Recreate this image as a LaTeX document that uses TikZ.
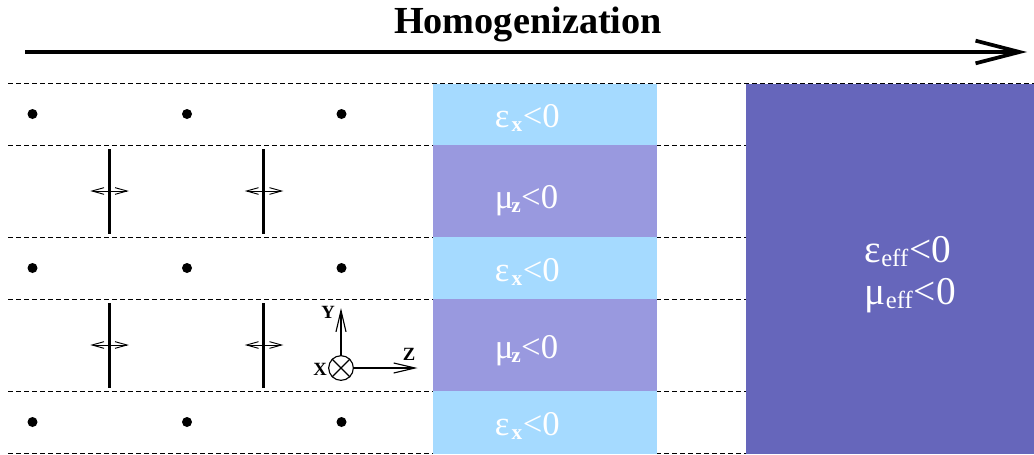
\documentclass[tikz,border=0pt]{standalone}
\usepackage{fontspec}
\setmainfont{Liberation Serif}
\usetikzlibrary{arrows.meta}
\definecolor{lightb}{HTML}{A5DAFF}
\definecolor{midb}{HTML}{9999DF}
\definecolor{darkb}{HTML}{6666BB}
\newcommand{\fsz}[1]{\fontsize{#1}{#1}\selectfont}
\newcommand{\lay}[3]{{\fsz{26}#1\kern#3\raisebox{-3pt}{\fsz{16}\textbf{#2}}\kern0.3pt<0}}
\newcommand{\layeff}[1]{{\fsz{29.5}#1\raisebox{-3.5pt}{\fsz{18.5}eff}\kern0.9pt<0}}
\tikzset{
  sep/.style={draw=black,line width=0.75pt,dash pattern=on 3.4pt off 2.6pt},
  band/.style={draw=none,fill=#1},
  pt/.style={circle,fill=black,draw=none,inner sep=0pt,minimum size=7.5pt},
  wire/.style={draw=black,line width=2.1pt},
  dipole/.style={draw=black,line width=0.7pt,{Straight Barb[length=9pt,width=5pt,line width=0.7pt]}-{Straight Barb[length=9pt,width=5pt,line width=0.7pt]}},
  axis/.style={draw=black,line width=0.85pt,-{Straight Barb[length=16pt,width=7.5pt,line width=0.85pt]}},
  lab/.style={inner sep=0pt,anchor=base west,text=white},
  axl/.style={inner sep=0pt,anchor=center,font=\fsz{14}\bfseries}
}
\begin{document}
\begin{tikzpicture}[x=0.75pt,y=-0.75pt]
\useasboundingbox (0,0) rectangle (1034,454);
\fill[white] (0,0) rectangle (1034,454);
% separators
\foreach \n/\y in {a/83.5,b/145,c/237,d/299,e/391,f/453.5}{
  \coordinate (s\n) at (8,\y);
  \coordinate (t\n) at (1034,\y);
  \draw[sep] (s\n) -- (t\n);
}
% bands
\foreach \a/\b/\c in {83.5/145/lightb,145/237/midb,237/299/lightb,299/391/midb,391/453.5/lightb}
  \fill[band=\c] (433,\a) rectangle (657,\b);
\fill[band=darkb] (746,83.5) rectangle (1034,454);
% dots
\foreach \r/\y in {1/114,2/268,3/422}
  \foreach \c/\x in {1/32.5,2/187,3/341.5}
    \node[pt] (p\r\c) at (\x,\y) {};
% wires and dipoles
\foreach \r/\t/\m/\e in {1/149/191/233.5,2/303/345/387.5}
  \foreach \c/\x in {1/109.3,2/263.8}{
    \coordinate (wt\r\c) at (\x,\t);
    \coordinate (wb\r\c) at (\x,\e);
    \coordinate (dl\r\c) at (\x-19,\m);
    \coordinate (dr\r\c) at (\x+19.5,\m);
    \draw[dipole] (dl\r\c) -- (dr\r\c);
    \draw[wire] (wt\r\c) -- (wb\r\c);
  }
% main arrow
\coordinate (hs) at (25,52);
\coordinate (he) at (1027,52);
\draw[draw=black,line width=2.8pt,-{Straight Barb[length=33pt,width=17pt,line width=2.8pt]}] (hs) -- (he);
\node[inner sep=0pt,anchor=base,font=\fsz{28.7}\bfseries] (title) at (528,33) {Homogenization};
% axes
\node[circle,draw=black,line width=0.85pt,inner sep=0pt,minimum size=18.5pt] (o) at (341,368) {};
\draw[line width=0.85pt] (o.45) -- (o.225) (o.135) -- (o.315);
\coordinate (ye) at (341,308);
\coordinate (ze) at (417.5,368);
\draw[axis] (o.north) -- (ye);
\draw[axis] (o.east) -- (ze);
\node[axl] (ly) at (328,312) {Y};
\node[axl] (lx) at (320,369.5) {X};
\node[axl] (lz) at (409,354) {Z};
% labels
\node[lab] (l1) at (494.5,127) {\lay{ε}{x}{1.8pt}};
\node[lab] (l2) at (494.5,208) {\lay{μ}{z}{-1.5pt}};
\node[lab] (l3) at (494.5,281) {\lay{ε}{x}{1.8pt}};
\node[lab] (l4) at (494.5,358) {\lay{μ}{z}{-1.5pt}};
\node[lab] (l5) at (494.5,435) {\lay{ε}{x}{1.8pt}};
\node[lab] (l6) at (864.5,262) {\layeff{ε}};
\node[lab] (l7) at (864.5,304) {\layeff{μ}};
\end{tikzpicture}
\end{document}
